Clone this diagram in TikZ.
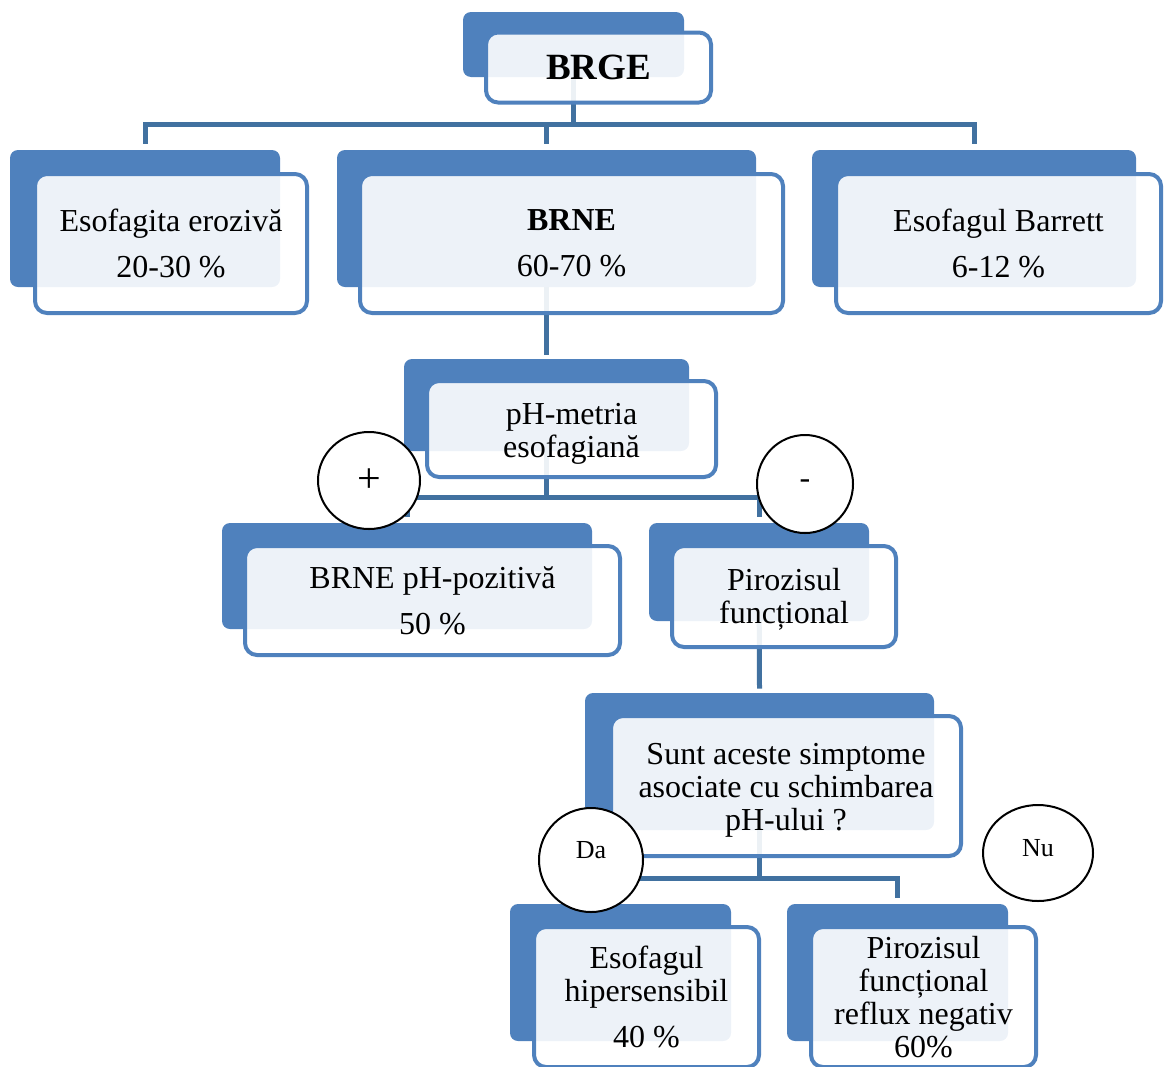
\documentclass[tikz,border=0pt]{standalone}
\usepackage{fontspec}
\setmainfont{Liberation Serif}
\usepackage{tikz}
\usetikzlibrary{shapes.geometric}
\definecolor{boxblue}{RGB}{79,129,189}
\definecolor{linkblue}{RGB}{65,113,160}
\pgfdeclarelayer{bg}
\pgfsetlayers{bg,main}

\begin{document}
\begin{tikzpicture}[x=0.5pt, y=-0.5pt,
    back/.style={fill=boxblue, rounded corners=4pt, inner sep=0pt},
    front/.style={draw=boxblue, line width=2pt, fill=white, fill opacity=0.9, text opacity=1, rounded corners=6pt, inner sep=1pt, align=center, font=\fontsize{16}{16.5}\selectfont},
    badge/.style={ellipse, draw, line width=1pt, fill=white, inner sep=0pt, font=\fontsize{13}{13}\selectfont},
    link/.style={draw=linkblue, line width=2.5pt}]
    \useasboundingbox (0,0) rectangle (1165,1066);
        % top level
        \node[back, minimum width=110.5pt, minimum height=32.5pt] (brge-b) at (573.5,44.5) {};
        \node[front, minimum width=112.5pt, minimum height=35pt] (brge) at (598.5,67.5) {\fontsize{18.5}{20}\selectfont\bfseries BRGE};
        % second level
        \node[back, minimum width=135pt, minimum height=68.5pt] (esof-b) at (145,218.5) {};
        \node[front, minimum width=136pt, minimum height=69.5pt] (esof) at (171,243.5) {Esofagita erozivă\\[6.5pt] 20-30 \%};
        \node[back, minimum width=209.5pt, minimum height=68.5pt] (brne-b) at (546.5,218.5) {};
        \node[front, minimum width=211.5pt, minimum height=69.5pt] (brne) at (571.5,243.5) {\textbf{BRNE}\\[6.5pt] 60-70 \%};
        \node[back, minimum width=162pt, minimum height=68.5pt] (barr-b) at (974,218.5) {};
        \node[front, minimum width=162.5pt, minimum height=69.5pt] (barr) at (998.5,243.5) {Esofagul Barrett\\[6.5pt] 6-12 \%};
        % pH-metry
        \node[back, minimum width=142.5pt, minimum height=46pt] (ph-b) at (546.5,405) {};
        \node[front, minimum width=144.5pt, minimum height=48pt] (ph) at (571.5,429) {\rule{0pt}{15pt}pH-metria\\ esofagiană};
        \node[back, minimum width=185pt, minimum height=53pt] (pos-b) at (407,576) {};
        \node[front, minimum width=187.5pt, minimum height=54.5pt] (pos) at (432.5,600.5) {BRNE pH-pozitivă\\[6.5pt] 50 \%};
        \node[back, minimum width=110pt, minimum height=49pt] (piro-b) at (759,572) {};
        \node[front, minimum width=112pt, minimum height=50.5pt] (piro) at (784,596.5) {\rule{0pt}{14pt}Pirozisul\\ funcțional};
        % question
        \node[back, minimum width=174.5pt, minimum height=68.5pt] (sunt-b) at (759.5,761.5) {};
        \node[front, minimum width=175pt, minimum height=70pt] (sunt) at (786,786) {\rule{0pt}{15pt}Sunt aceste simptome\\ asociate cu schimbarea\\ pH-ului ?};
        \node[back, minimum width=110.5pt, minimum height=68.5pt] (hiper-b) at (620.5,972.5) {};
        \node[front, minimum width=112.5pt, minimum height=70pt] (hiper) at (646.5,997) {Esofagul\\ hipersensibil\\[6.5pt] 40 \%};
        \node[back, minimum width=110.5pt, minimum height=68.5pt] (neg-b) at (897.5,972.5) {};
        \node[front, minimum width=112.5pt, minimum height=70pt] (neg) at (923.5,997) {Pirozisul\\ funcțional\\ reflux negativ\\ 60\%};
        % connectors
        \begin{pgfonlayer}{bg}
            \draw[link] (brge-b.center) -- ++(0,79.5) -| ([yshift=3pt]esof-b.north);
            \draw[link] (brge-b.center) -- ++(0,79.5) -| ([yshift=3pt]brne-b.north);
            \draw[link] (brge-b.center) -- ++(0,79.5) -| ([yshift=3pt]barr-b.north);
            \draw[link] (brne-b.center) -- ([yshift=2pt]ph-b.north);
            \draw[link] (ph-b.center) -- ++(0,92) -| ([yshift=3pt]pos-b.north);
            \draw[link] (ph-b.center) -- ++(0,92) -| ([yshift=3pt]piro-b.north);
            \draw[link] (piro-b.center) -- ([yshift=2pt]sunt-b.north);
            \draw[link] (sunt-b.center) -- ++(0,116.5) -| ([yshift=3pt]hiper-b.north);
            \draw[link] (sunt-b.center) -- ++(0,116.5) -| ([yshift=3pt]neg-b.north);
        \end{pgfonlayer}
        % answers
        \node[badge, minimum width=51pt, minimum height=48.5pt, font=\fontsize{21}{21}\selectfont] (plus) at (369,480.5) {+};
        \node[badge, minimum width=48pt, minimum height=49pt, font=\fontsize{16}{16}\selectfont] (minus) at (805,484) {-};
        \node[badge, minimum width=52pt, minimum height=52pt] (da) at (591,860) {\raisebox{10pt}{Da}};
        \node[badge, minimum width=55pt, minimum height=48pt] (nu) at (1038,853) {\raisebox{5pt}{Nu}};
    \end{tikzpicture}
\end{document}
